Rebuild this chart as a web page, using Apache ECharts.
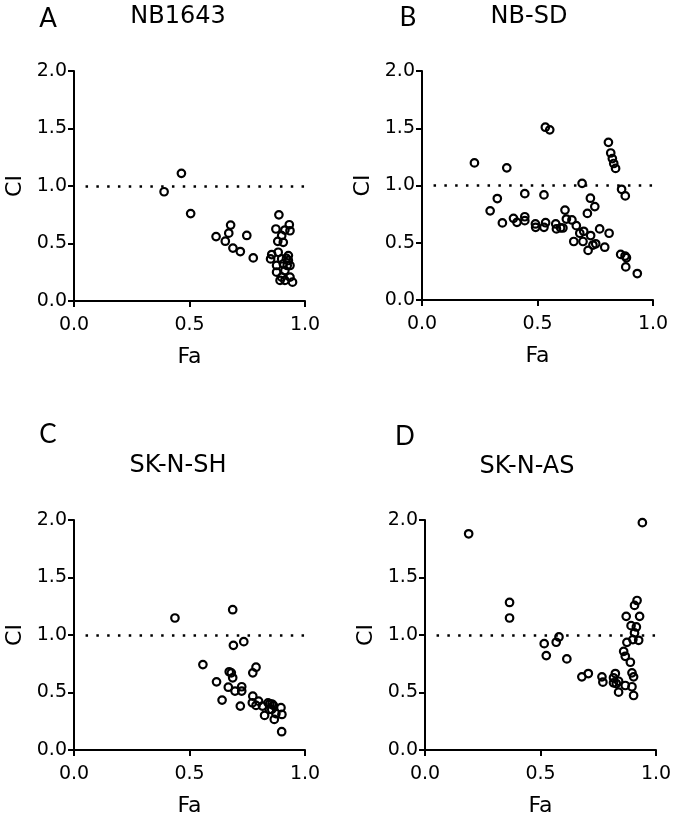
<!DOCTYPE html>
<html>
<head>
<meta charset="utf-8">
<script src="https://cdn.jsdelivr.net/npm/echarts@6/dist/echarts.min.js"></script>
<style>
html,body{margin:0;padding:0;background:#fff;}
#chart{width:677px;height:818px;}
</style>
</head>
<body>
<div id="chart"></div>
<script>
// ---- data ----
const panelLetters = ['A', 'B', 'C', 'D'];
const cellLines = ['NB1643', 'NB-SD', 'SK-N-SH', 'SK-N-AS'];
const xTicks = [0, 0.5, 1.0];
const yTicks = [0, 0.5, 1.0, 1.5, 2.0];
const refCI = 1.0;
const xName = 'Fa';
const yName = 'CI';

const nb1643 = [
  [0.39,0.95],[0.465,1.11],[0.505,0.76],[0.615,0.56],[0.655,0.52],[0.67,0.59],[0.678,0.66],
  [0.688,0.46],[0.72,0.43],[0.748,0.57],[0.776,0.375],
  [0.887,0.749],[0.874,0.626],[0.932,0.663],[0.935,0.611],[0.913,0.617],[0.899,0.568],
  [0.882,0.519],[0.906,0.51],[0.856,0.404],[0.851,0.366],[0.884,0.424],[0.899,0.366],
  [0.928,0.352],[0.935,0.309],[0.906,0.323],[0.877,0.309],[0.913,0.265],[0.877,0.251],
  [0.899,0.207],[0.913,0.179],[0.935,0.207],[0.946,0.164],[0.923,0.309],[0.928,0.395],
  [0.892,0.179],[0.92,0.37]
];
const nbsd = [
  [0.227,1.197],[0.367,1.154],[0.534,1.509],[0.553,1.486],[0.807,1.377],[0.817,1.284],
  [0.824,1.235],[0.830,1.192],[0.838,1.149],[0.693,1.019],[0.864,0.967],[0.880,0.909],
  [0.445,0.929],[0.528,0.918],[0.326,0.886],[0.295,0.779],[0.348,0.673],[0.396,0.713],
  [0.411,0.678],[0.445,0.727],[0.445,0.693],[0.491,0.664],[0.492,0.635],[0.528,0.635],
  [0.535,0.675],[0.579,0.664],[0.582,0.621],[0.61,0.629],[0.619,0.785],[0.625,0.707],
  [0.649,0.699],[0.668,0.649],[0.657,0.511],[0.683,0.583],[0.700,0.600],[0.697,0.511],
  [0.719,0.433],[0.716,0.756],[0.729,0.889],[0.748,0.816],[0.730,0.563],[0.752,0.491],
  [0.769,0.621],[0.791,0.461],[0.810,0.583],[0.860,0.398],[0.879,0.384],[0.885,0.369],
  [0.882,0.289],[0.932,0.231],[0.74,0.48],[0.60,0.63]
];
const sknsh = [
  [0.437,1.148],[0.687,1.22],[0.69,0.91],[0.735,0.942],[0.558,0.743],[0.672,0.68],
  [0.681,0.671],[0.687,0.628],[0.617,0.593],[0.641,0.434],[0.668,0.546],[0.697,0.512],
  [0.726,0.55],[0.726,0.512],[0.72,0.382],[0.774,0.671],[0.788,0.72],[0.774,0.468],
  [0.772,0.411],[0.788,0.388],[0.799,0.425],[0.816,0.382],[0.825,0.301],[0.848,0.402],
  [0.846,0.353],[0.863,0.388],[0.867,0.266],[0.874,0.316],[0.856,0.353],[0.896,0.368],
  [0.9,0.309],[0.899,0.159],[0.84,0.41],[0.857,0.40]
];
const sknas = [
  [0.189,1.88],[0.941,1.977],[0.366,1.283],[0.366,1.148],[0.516,0.925],[0.525,0.821],
  [0.568,0.937],[0.58,0.983],[0.614,0.792],[0.679,0.636],[0.707,0.665],[0.766,0.636],
  [0.77,0.59],[0.816,0.628],[0.824,0.665],[0.816,0.584],[0.838,0.598],[0.838,0.503],
  [0.918,1.30],[0.907,1.257],[0.871,1.162],[0.929,1.162],[0.892,1.081],[0.915,1.07],
  [0.907,1.018],[0.925,0.954],[0.9,0.96],[0.874,0.936],[0.86,0.858],[0.867,0.815],
  [0.889,0.763],[0.896,0.671],[0.903,0.636],[0.867,0.561],[0.896,0.55],[0.903,0.474],
  [0.828,0.578]
];
const panelData = [nb1643, nbsd, sknsh, sknas];

// ---- layout ----
const grids = [
  {left: 74, top: 71, width: 231, height: 230},
  {left: 422, top: 71, width: 231, height: 229},
  {left: 74, top: 520, width: 231, height: 231},
  {left: 425, top: 520, width: 231, height: 231}
];
const letterPos = [[48, 19], [408, 18], [48, 435], [405, 437]];
const titlePos = [[178, 17], [529, 17], [178, 466], [527, 467]];

const FONT = 'DejaVu Sans';
const axisLine = {show: true, onZero: false, lineStyle: {color: '#000', width: 2}};
const axisTick = {show: true, inside: false, length: 6, lineStyle: {color: '#000', width: 2}};

const xAxes = [], yAxes = [], series = [], graphics = [];
panelData.forEach(function (d, i) {
  xAxes.push({
    type: 'value', gridIndex: i, min: xTicks[0], max: xTicks[xTicks.length - 1],
    interval: xTicks[1] - xTicks[0],
    axisLine: axisLine, axisTick: axisTick, splitLine: {show: false},
    axisLabel: {margin: 15, fontFamily: FONT, fontSize: 19, color: '#000',
      formatter: function (v) { return v.toFixed(1); }},
    name: xName, nameLocation: 'middle', nameGap: 45,
    nameTextStyle: {fontFamily: FONT, fontSize: 22, color: '#000'}
  });
  yAxes.push({
    type: 'value', gridIndex: i, min: yTicks[0], max: yTicks[yTicks.length - 1],
    interval: yTicks[1] - yTicks[0],
    axisLine: axisLine, axisTick: axisTick, splitLine: {show: false},
    axisLabel: {margin: 7, fontFamily: FONT, fontSize: 19, color: '#000',
      formatter: function (v) { return v.toFixed(1); }},
    name: yName, nameLocation: 'middle', nameGap: 48,
    nameTextStyle: {fontFamily: FONT, fontSize: 22, color: '#000'}
  });
  series.push({
    type: 'scatter', name: cellLines[i], xAxisIndex: i, yAxisIndex: i,
    data: d, symbol: 'circle', symbolSize: 7.5,
    itemStyle: {color: 'rgba(255,255,255,0)', borderColor: '#000', borderWidth: 2.2, opacity: 1},
    emphasis: {disabled: true},
    markLine: {
      silent: true, symbol: ['none', 'none'], label: {show: false},
      lineStyle: {color: '#000', width: 2.5, type: [2.5, 8.3], opacity: 1},
      emphasis: {disabled: true},
      data: [[{coord: [0.05, refCI]}, {coord: [1.0, refCI]}]]
    }
  });
  graphics.push({
    type: 'text', x: letterPos[i][0], y: letterPos[i][1],
    style: {text: panelLetters[i], fontFamily: 'Lato', fontSize: 26, fill: '#000',
      align: 'center', verticalAlign: 'middle', textAlign: 'center', textVerticalAlign: 'middle'}
  });
  graphics.push({
    type: 'text', x: titlePos[i][0], y: titlePos[i][1],
    style: {text: cellLines[i], fontFamily: FONT, fontSize: 24, fill: '#000',
      align: 'center', verticalAlign: 'middle', textAlign: 'center', textVerticalAlign: 'middle'}
  });
});

const chart = echarts.init(document.getElementById('chart'), null, {renderer: 'canvas'});
chart.setOption({
  animation: false,
  backgroundColor: '#fff',
  grid: grids,
  xAxis: xAxes,
  yAxis: yAxes,
  series: series,
  graphic: graphics
});
</script>
</body>
</html>
